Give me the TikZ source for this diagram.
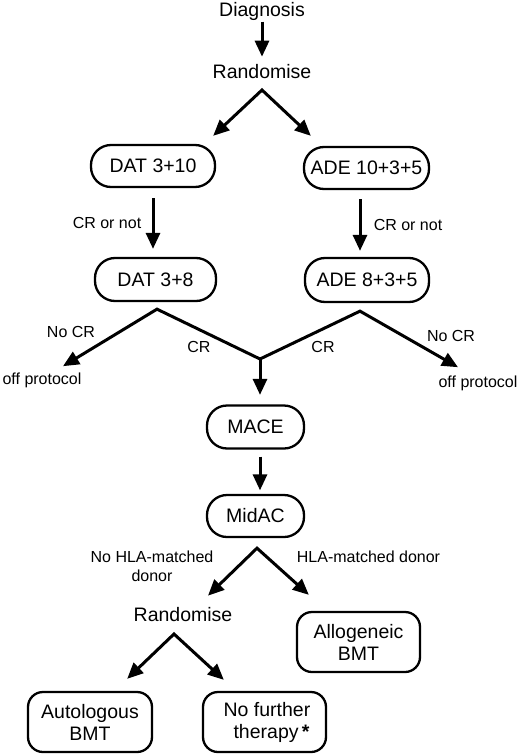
\documentclass[tikz,border=0pt]{standalone}
\usepackage{fontspec}
\setmainfont{Liberation Sans}
\usetikzlibrary{calc, arrows.meta}

\begin{document}
\begin{tikzpicture}[x=1pt, y=-1pt, >={Triangle[length=16pt, width=14pt]},
caixa/.style={rectangle, draw=black, line width=2.3pt, rounded corners=20pt, minimum width=124pt, minimum height=42pt, inner sep=0pt, font=\fontsize{19.5}{22}\selectfont},
caixadupla/.style={caixa, rounded corners=15pt, minimum height=60pt, align=center},
titulo/.style={inner sep=1pt, anchor=base, font=\fontsize{19.5}{22}\selectfont},
rotulo/.style={inner sep=1pt, anchor=base, align=center, font=\fontsize{16}{19}\selectfont},
seta/.style={line width=3pt, ->},
setas/.style={line width=3pt, <->},
		]

\useasboundingbox (0,0) rectangle (520,755);

\begin{scope}

	% inicio
	\node[titulo] at (262,16.5) (diag) []{Diagnosis};
	\node[titulo] at (262,78) (rand1) []{Randomise};
	\coordinate (bif1) at ($(rand1.base)+(0,12)$);

	\node[caixa] at (153,166) (dat1) []{DAT 3+10};
	\node[caixa, minimum width=125pt] at (366.5,168) (ade1) []{ADE 10+3+5};
	\node[caixa, minimum width=121pt, minimum height=43pt] at (155.5,279.5) (dat2) []{DAT 3+8};
	\node[caixa, minimum height=44pt] at (367,280) (ade2) []{ADE 8+3+5};

	\node[rotulo] at (107,228.5) (crnot1) []{CR or not};
	\node[rotulo] at (408,230) (crnot2) []{CR or not};

	\draw[seta, shorten >=6pt] (diag) -- (rand1);
	\draw[setas] ($(dat1.north east)+(-3,-8)$) -- (bif1) -- ($(ade1.north west)+(8,-10)$);
	\draw[seta, shorten <=10pt, shorten >=8pt] (dat1.south) -- (dat1.south |- dat2.north);
	\draw[seta, shorten <=9pt, shorten >=6pt] ([xshift=-6.5pt]ade1.south) -- ([xshift=-6.5pt]ade1.south |- ade2.north);

	% resposta
	\node[rotulo] at (42,384) (off1) []{off protocol};
	\node[rotulo] at (478,387) (off2) []{off protocol};
	\node[rotulo] at (71,337) (nocr1) []{No CR};
	\node[rotulo] at (199,352) (cr1l) []{CR};
	\node[rotulo] at (323,352) (cr2l) []{CR};
	\node[rotulo] at (451,341.5) (nocr2) []{No CR};

	\node[caixa, minimum width=97pt, minimum height=43pt] at (255.5,427) (mace) []{MACE};
	\node[caixa, minimum width=97pt] at (255.5,516) (midac) []{MidAC};

	\coordinate (cr1) at ($(dat2.south)+(1.5,7)$);
	\coordinate (cr2) at ($(ade2.south)+(-7,8)$);
	\coordinate (uniao) at (260,359);

	\draw[setas] ($(off1.north)+(21,-5)$) -- (cr1) -- (uniao) -- (cr2) -- ($(off2.north)+(-20,-7)$);
	\draw[seta, shorten >=9.5pt] (uniao) -- (uniao |- mace.north);
	\draw[seta, shorten <=7pt, shorten >=3.5pt] ([xshift=4.5pt]mace.south) -- ([xshift=4.5pt]mace.south |- midac.north);

	% transplante
	\coordinate (bif2) at ($(midac.south)+(1.5,10)$);
	\node[rotulo] at (152,581) (nohla) []{No HLA-matched\\donor};
	\node[rotulo] at (368.5,562) (hla) []{HLA-matched donor};
	\node[titulo] at (183,621) (rand2) []{Randomise};
	\coordinate (bif3) at ($(rand2.base)+(-9,13)$);

	\node[caixadupla, minimum width=123pt] at (358.5,642) (allo) []{Allogeneic\\BMT};
	\node[caixadupla] at (90,722) (auto) []{Autologous\\BMT};
	\node[caixadupla, minimum width=123pt] at (264.5,722) (nft) []{\hspace*{5pt}No further\\\hspace*{14pt}therapy\,\textbf{*}};

	\draw[setas] ($(rand2.north)+(25,-10)$) -- (bif2) -- ($(allo.north west)+(13,-16)$);
	\draw[setas] ($(auto.north east)+(-26,-12)$) -- (bif3) -- ($(nft.north west)+(22,-11)$);

\end{scope}

\end{tikzpicture}
\end{document}
